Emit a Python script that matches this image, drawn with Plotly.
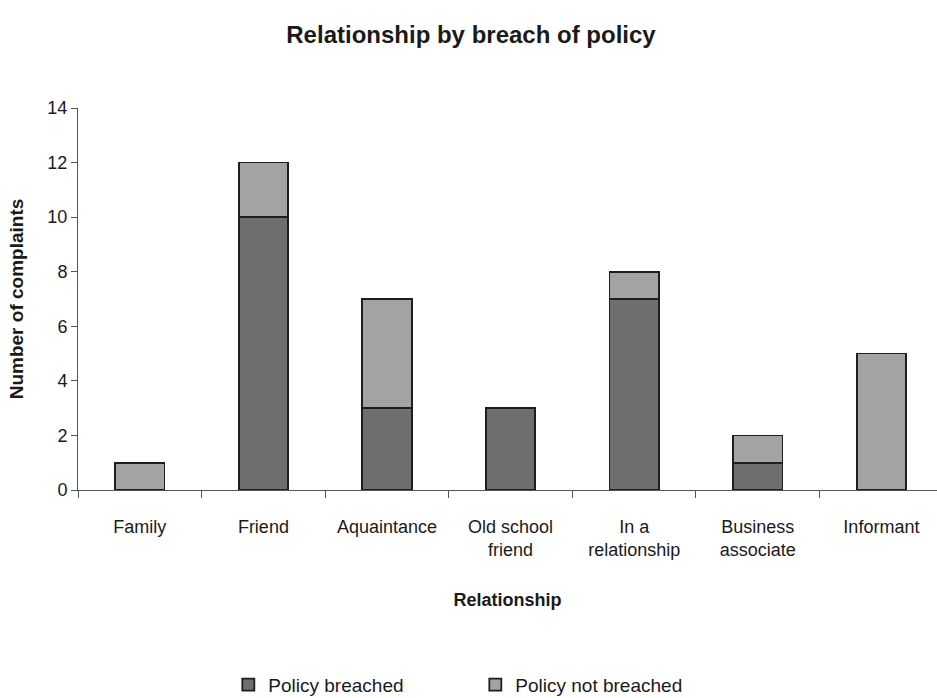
import plotly.graph_objects as go

categories = ["Family", "Friend", "Aquaintance", "Old school<br>friend",
              "In a<br>relationship", "Business<br>associate", "Informant"]
policy_breached = [0, 10, 3, 3, 7, 1, 0]
policy_not_breached = [1, 2, 4, 0, 1, 1, 5]
y_ticks = [0, 2, 4, 6, 8, 10, 12, 14]

FONT = "Liberation Sans, Arial, sans-serif"

fig = go.Figure()
fig.add_trace(go.Bar(
    x=categories, y=policy_breached, name="Policy breached",
    marker=dict(color="#6f6f6f", line=dict(color="#1e1e1e", width=1.8)),
))
fig.add_trace(go.Bar(
    x=categories, y=policy_not_breached, name="Policy not breached",
    marker=dict(color="#a3a3a3", line=dict(color="#1e1e1e", width=1.8)),
))

fig.update_layout(
    barmode="stack",
    bargap=0.6,
    width=937, height=698,
    margin=dict(l=78, r=0, t=108, b=208, autoexpand=False),
    paper_bgcolor="white", plot_bgcolor="white",
    font=dict(family=FONT, size=18, color="#1a1a1a"),
    title=dict(text="<b>Relationship by breach of policy</b>",
               x=0.4575, xanchor="center", xref="paper",
               y=1 - 35 / 698, yref="container", yanchor="middle",
               font=dict(size=24, family=FONT, color="#1a1a1a")),
    showlegend=True,
    legend=dict(orientation="h", x=0.175, xanchor="left", y=-0.51, yanchor="middle",
                font=dict(size=19, family=FONT), entrywidth=202, entrywidthmode="pixels",
                traceorder="normal"),
    xaxis=dict(
        range=[-0.5, 6.45], automargin=False,
        showline=True, linecolor="#555", linewidth=1,
        ticks="outside", tickson="boundaries", ticklen=7, tickcolor="#555",
        showgrid=False,
        tickfont=dict(size=18, family=FONT),
        ticklabelstandoff=20,
        title=dict(text="<b>Relationship</b>", font=dict(size=18, family=FONT), standoff=34),
    ),
    yaxis=dict(
        range=[0, 14], tickvals=y_ticks, automargin=False,
        showline=True, linecolor="#555", linewidth=1,
        ticks="outside", ticklen=6, tickcolor="#555",
        showgrid=False, zeroline=False,
        tickfont=dict(size=18, family=FONT),
        title=dict(text="<b>Number of complaints</b>", font=dict(size=19, family=FONT), standoff=18),
    ),
)

fig.write_html("out.html")
